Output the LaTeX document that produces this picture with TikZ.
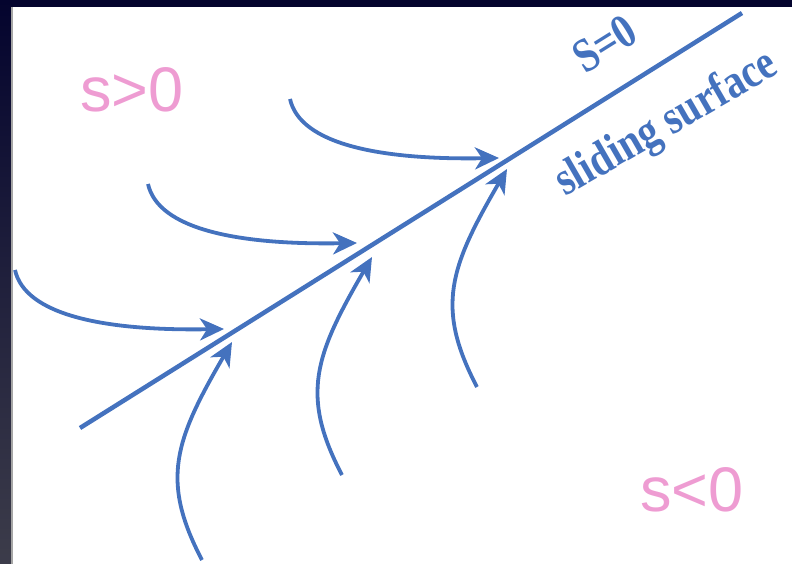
\documentclass[tikz,border=0pt]{standalone}
\usepackage{fontspec}
\setmainfont{Liberation Serif}
\setsansfont{Liberation Sans}
\usetikzlibrary{arrows.meta,calc}
\definecolor{slide-navy}{RGB}{4,4,46}
\definecolor{slide-slate}{RGB}{60,60,74}
\definecolor{surf-blue}{RGB}{68,114,190}
\definecolor{sign-pink}{RGB}{238,156,210}

\begin{document}
\begin{tikzpicture}[x=1pt, y=-1pt, every node/.style={inner sep=0pt},
  surface/.style={draw=surf-blue, line width=4.5pt},
  flow/.style={draw=surf-blue, line width=3.8pt, -{Stealth[length=24pt, width=22pt, inset=7pt]}},
  signlabel/.style={font=\sffamily\fontsize{63}{63}\selectfont, text=sign-pink, anchor=base west},
  surflabel/.style={font=\bfseries\fontsize{40}{40}\selectfont, text=surf-blue}]
  \useasboundingbox (0,0) rectangle (792,564);

  % Slide frame
  \fill[slide-navy] (0,0) rectangle (792,7);
  \shade[top color=slide-navy, bottom color=slide-slate] (0,0) rectangle (11,564);
  \fill[gray!70] (11,7) rectangle (12.5,564);

  % Sliding surface
  \coordinate (s0) at (80,428);
  \coordinate (s1) at (742,13);
  \draw[surface] (s0) -- (s1);
  \node[surflabel, rotate=32, yscale=1.2] (zero) at (605,44) {S=0};
  \node[surflabel, rotate=30, yscale=1.2] (name) at (667,125) {sliding surface};

  % Regions
  \node[signlabel] (pos) at (80,112) {s>0};
  \node[signlabel] (neg) at (640,511) {s<0};

  % Trajectories from s>0
  \foreach \i/\sx/\sy in {1/15/270, 2/148/184, 3/290/99} {
    \coordinate (up\i) at (\sx,\sy);
    \coordinate (hitup\i) at ($(up\i)+(209,59)$);
    \draw[flow] (up\i) .. controls +(10,45) and +(-120,2) .. (hitup\i);
  }

  % Trajectories from s<0
  \foreach \i/\sx/\sy in {1/202/560, 2/342/475, 3/477/387} {
    \coordinate (lo\i) at (\sx,\sy);
    \coordinate (hitlo\i) at ($(lo\i)+(30,-218)$);
    \draw[flow] (lo\i) .. controls +(-42,-80) and +(-57,98) .. (hitlo\i);
  }
\end{tikzpicture}
\end{document}
